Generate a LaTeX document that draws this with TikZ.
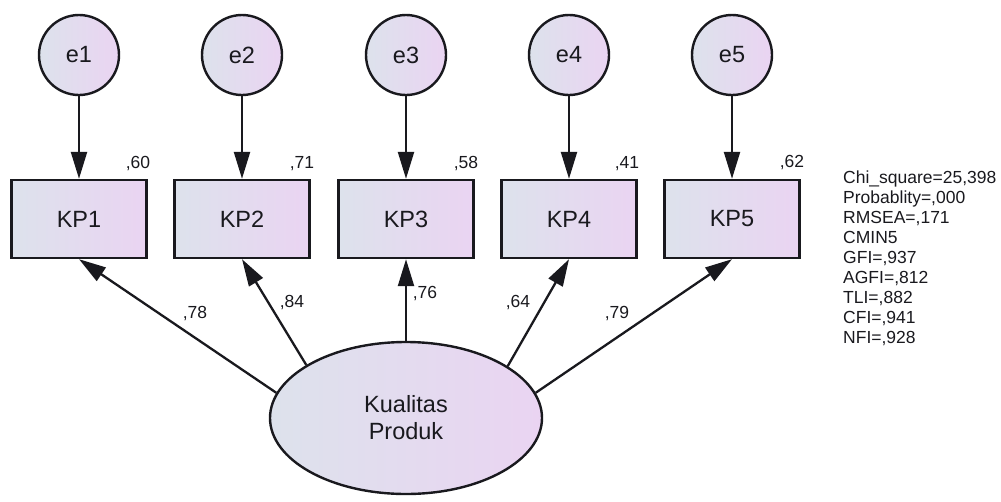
\documentclass[tikz,border=0pt]{standalone}
\usepackage{fontspec}
\setmainfont{Liberation Sans}
\usetikzlibrary{arrows.meta,shapes.geometric}
\definecolor{shadeL}{RGB}{221,226,236}
\definecolor{shadeR}{RGB}{234,212,242}
\definecolor{ink}{RGB}{25,25,30}
\tikzset{
  pane/.style={draw=ink, line width=2.4pt, left color=shadeL, right color=shadeR, text=ink},
  obsbox/.style={pane, rectangle, minimum width=135pt, minimum height=78pt, inner sep=0pt,
    font=\fontsize{23.5}{27}\selectfont},
  errnode/.style={pane, circle, minimum size=80pt, inner sep=0pt,
    font=\fontsize{23.5}{27}\selectfont},
  latnode/.style={pane, ellipse, minimum width=272pt, minimum height=152pt, inner sep=0pt,
    align=center, font=\fontsize{23.5}{27}\selectfont},
  path/.style={draw=ink, line width=2.3pt, -{Triangle[length=27pt,width=16pt]}},
  coef/.style={anchor=base, inner sep=0pt, text=ink, font=\fontsize{17.5}{20}\selectfont},
}
\begin{document}
\begin{tikzpicture}[x=1pt,y=-1pt]
\useasboundingbox (0,0) rectangle (1001,501);

% error terms and indicators
\foreach \i/\x in {1/79,2/242,3/406,4/569,5/732}{
  \node[errnode] (e\i) at (\x,55) {e\i};
  \node[obsbox] (KP\i) at (\x,219) {KP\i};
  \draw[path] (e\i) -- (KP\i);
}

% latent construct
\node[latnode] (lat) at (406,418) {Kualitas\\Produk};

% loadings
\draw[path] (lat.169) -- (KP1.south);
\draw[path] (lat.152.5) -- (KP2.south);
\draw[path] (lat.90) -- (KP3.south);
\draw[path] (lat.27.5) -- (KP4.south);
\draw[path] (lat.11) -- (KP5.south);

\node[coef] (l1) at (195,318) {,78};
\node[coef] (l2) at (292,307) {,84};
\node[coef] (l3) at (425,298) {,76};
\node[coef] (l4) at (518,307) {,64};
\node[coef] (l5) at (617,318) {,79};

% squared multiple correlations
\node[coef] (r1) at (138,168) {,60};
\node[coef] (r2) at (302,168) {,71};
\node[coef] (r3) at (466,168) {,58};
\node[coef] (r4) at (627,168) {,41};
\node[coef] (r5) at (792,167) {,62};

% fit indices
\node[anchor=north west, inner sep=0pt, align=left, text=ink,
      font=\fontsize{17.5}{20}\selectfont] (fit) at (843,171)
  {Chi\_square=25,398\\Probablity=,000\\RMSEA=,171\\CMIN5\\GFI=,937\\AGFI=,812\\TLI=,882\\CFI=,941\\NFI=,928};
\end{tikzpicture}
\end{document}
